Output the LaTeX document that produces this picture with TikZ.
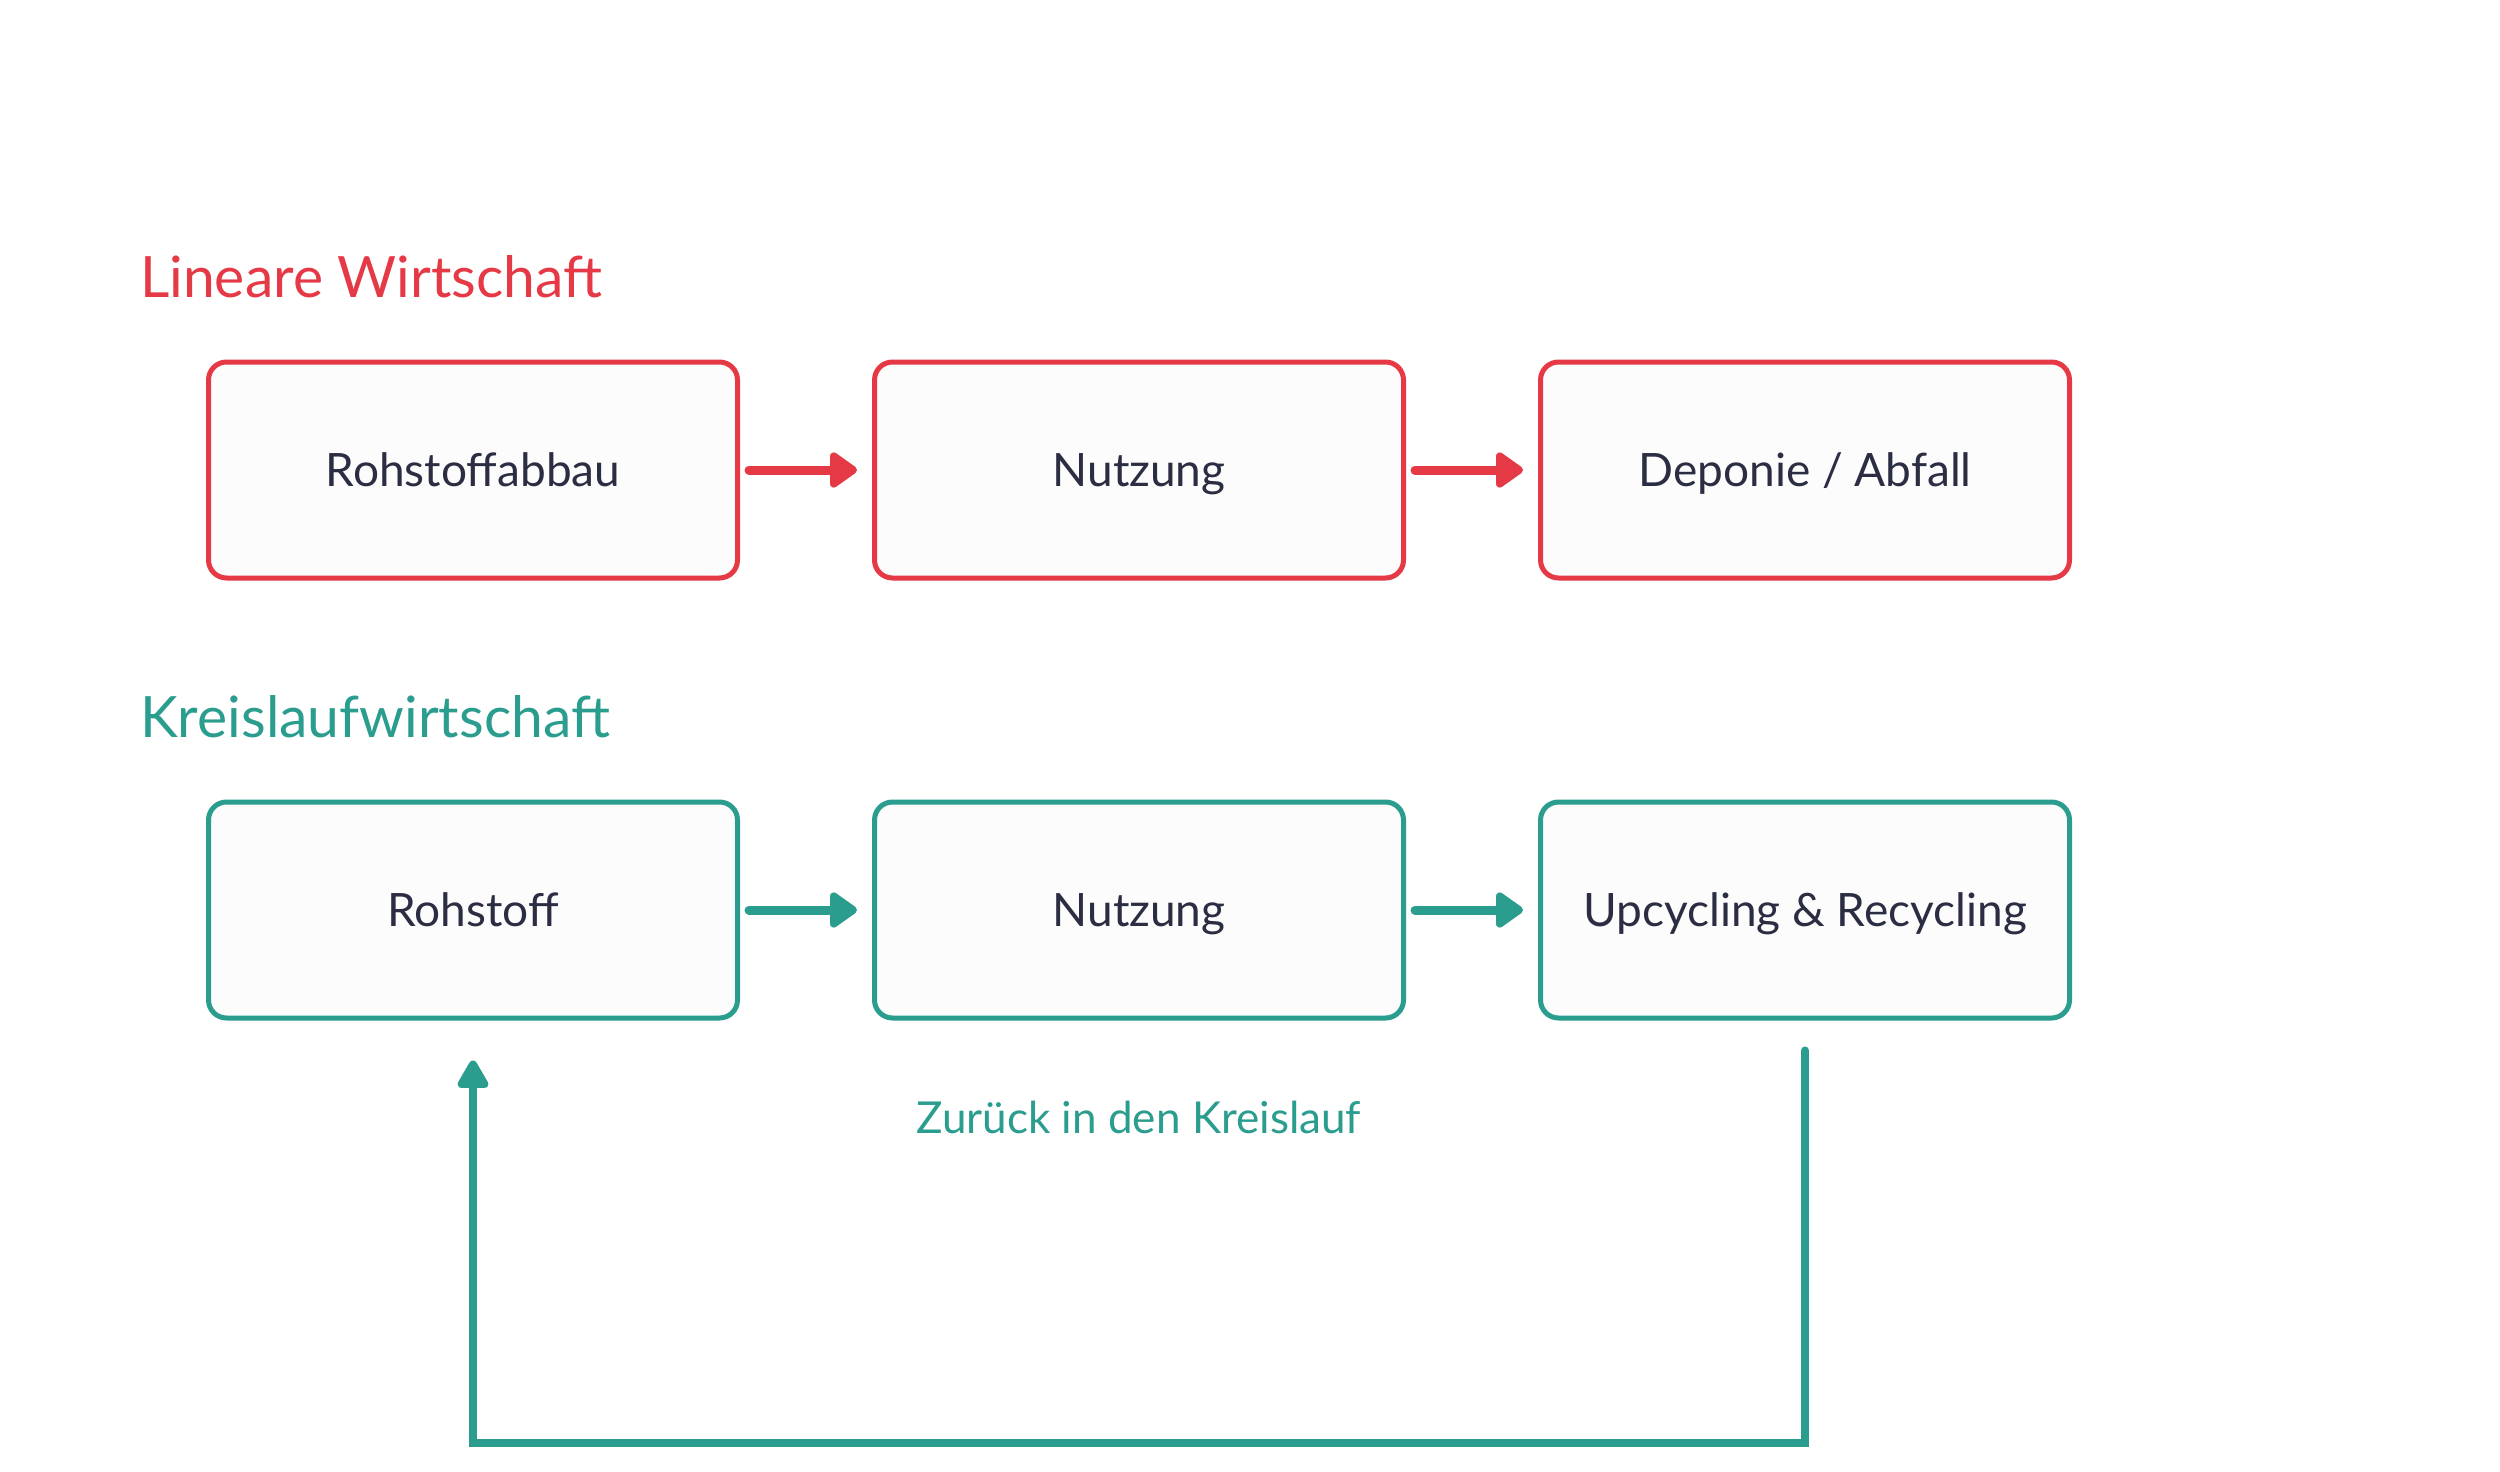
\documentclass[tikz,border=0pt]{standalone}
\usepackage{fontspec}
\setmainfont{Lato}
\usetikzlibrary{arrows.meta,calc}
\definecolor{linred}{HTML}{E63946}
\definecolor{circteal}{HTML}{2A9D8F}
\definecolor{inkdark}{HTML}{2B2D42}
\definecolor{boxfill}{HTML}{FCFCFC}
\begin{document}
\begin{tikzpicture}[x=1pt,y=-1pt,
  stagebox/.style={draw, line width=5pt, fill=boxfill, rounded corners=18pt,
    minimum width=529pt, minimum height=216pt, inner sep=0pt,
    text=inkdark, font=\fontsize{46}{52}\selectfont, text height=33pt, text depth=0pt},
  redbox/.style={stagebox, draw=linred},
  tealbox/.style={stagebox, draw=circteal},
  heading/.style={anchor=base west, inner sep=0pt, font=\fontsize{57}{64}\selectfont},
  flow/.style={line width=9pt, line cap=round,
    -{Triangle[length=30pt,width=40pt,round]}, shorten <=9pt, shorten >=15pt},
  backloop/.style={draw=circteal, line width=8pt, line cap=round, line join=miter,
    -{Triangle[length=32pt,width=34pt,round]}}
]
% canvas
\fill[white] (0,0) rectangle (2500,1472);
\useasboundingbox (0,0) rectangle (2500,1472);

% linear economy
\node[heading, text=linred] (linhead) at (140,297) {Lineare Wirtschaft};
\node[redbox] (rabbau) at (473,470) {Rohstoffabbau};
\node[redbox] (rnutz) at (1139,470) {Nutzung};
\node[redbox] (deponie) at (1805,470) {Deponie / Abfall};
\draw[flow, draw=linred] (rabbau.east) -- (rnutz.west);
\draw[flow, draw=linred] (rnutz.east) -- (deponie.west);

% circular economy
\node[heading, text=circteal] (circhead) at (140,737) {Kreislaufwirtschaft};
\node[tealbox] (roh) at (473,910) {Rohstoff};
\node[tealbox] (cnutz) at (1139,910) {Nutzung};
\node[tealbox] (upcyc) at (1805,910) {Upcycling \& Recycling};
\draw[flow, draw=circteal] (roh.east) -- (cnutz.west);
\draw[flow, draw=circteal] (cnutz.east) -- (upcyc.west);

% return path back into the cycle
\coordinate (loopstart) at ($(upcyc.south)+(0,30)$);
\coordinate (loopend) at ($(roh.south)+(0,40)$);
\coordinate (loopfloor) at (0,1443);
\draw[backloop] (loopstart) -- (loopstart |- loopfloor)
  -- (loopend |- loopfloor) -- (loopend);
\node[anchor=base, text=circteal, inner sep=0pt, font=\fontsize{44}{50}\selectfont]
  (looplabel) at (1139,1133) {Zurück in den Kreislauf};
\end{tikzpicture}
\end{document}
